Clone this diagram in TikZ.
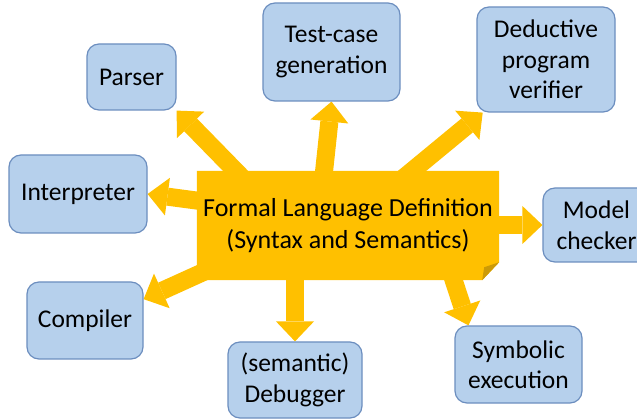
\documentclass[tikz,border=0pt]{standalone}
\usepackage{fontspec}
\setmainfont{Carlito}
\usetikzlibrary{arrows.meta,backgrounds}
\definecolor{defyellow}{HTML}{FFC000}
\definecolor{folddark}{HTML}{CC9A06}
\definecolor{toolblue}{HTML}{B6D0EC}
\definecolor{toolborder}{HTML}{6C8EBF}
\begin{document}
\begin{tikzpicture}[x=1pt, y=-1pt,
    tool/.style={rectangle, draw=toolborder, line width=1.2pt, fill=toolblue, rounded corners=12pt, align=center, inner sep=0pt, font=\fontsize{25.5}{30.5}\selectfont},
    flow/.style={draw=defyellow, line width=18pt, -{Triangle[length=20pt, width=38pt, line width=0pt]}}]
        \useasboundingbox (0,0) rectangle (637,419);

        % Definition
        \node[rectangle, minimum width=302pt, minimum height=109pt, align=center, inner sep=0pt, font=\fontsize{26}{31.5}\selectfont] (def) at (348,225.5) {Formal Language Definition\\(Syntax and Semantics)};

        % Tools
        \node[tool, minimum width=89pt, minimum height=66pt] (parser) at (131.5,77) {Parser};
        \node[tool, minimum width=137pt, minimum height=98pt] (testcase) at (331.5,52) {Test-case\\generation};
        \node[tool, minimum width=138pt, minimum height=105pt] (deductive) at (546,59.5) {Deductive\\program\\verifier};
        \node[tool, minimum width=138pt, minimum height=78pt] (interp) at (78,194) {Interpreter};
        \node[tool, minimum width=107pt, minimum height=74pt] (model) at (596.5,225) {Model\\checker};
        \node[tool, minimum width=116pt, minimum height=77pt] (compiler) at (85,320.5) {Compiler};
        \node[tool, minimum width=134pt, minimum height=76pt] (debugger) at (295,380) {(semantic)\\Debugger};
        \node[tool, minimum width=127pt, minimum height=77pt] (symbolic) at (518.5,364.5) {Symbolic\\execution};

        % Start points
        \coordinate (sparser) at (262,198);
        \coordinate (stest) at (321,200);
        \coordinate (sded) at (395,185);
        \coordinate (sinterp) at (230,205);
        \coordinate (smodel) at (470,225);
        \coordinate (scomp) at (230,260);
        \coordinate (sdebug) at (295,260);
        \coordinate (ssym) at (447,260);

        \begin{scope}[on background layer]
            % Connections
            \draw[flow] (sparser) -- (parser.south east);
            \draw[flow] (stest) -- (testcase.south);
            \draw[flow] (sded) -- (deductive.-140);
            \draw[flow] (sinterp) -- (interp.east);
            \draw[flow] (smodel) -- (model.west);
            \draw[flow] (scomp) -- (compiler.20);
            \draw[flow] (sdebug) -- (debugger.north);
            \draw[flow] (ssym) -- (symbolic.142);

            % Folded sheet
            \fill[defyellow] (def.north west) -- (def.north east) -- ([yshift=18pt]def.south east) -- ([xshift=-17pt]def.south east) -- (def.south west) -- cycle;
            \fill[folddark] ([yshift=18pt]def.south east) -- ([xshift=-17pt]def.south east) -- ([shift={(-15pt,13pt)}]def.south east) -- cycle;
        \end{scope}
    \end{tikzpicture}
\end{document}
